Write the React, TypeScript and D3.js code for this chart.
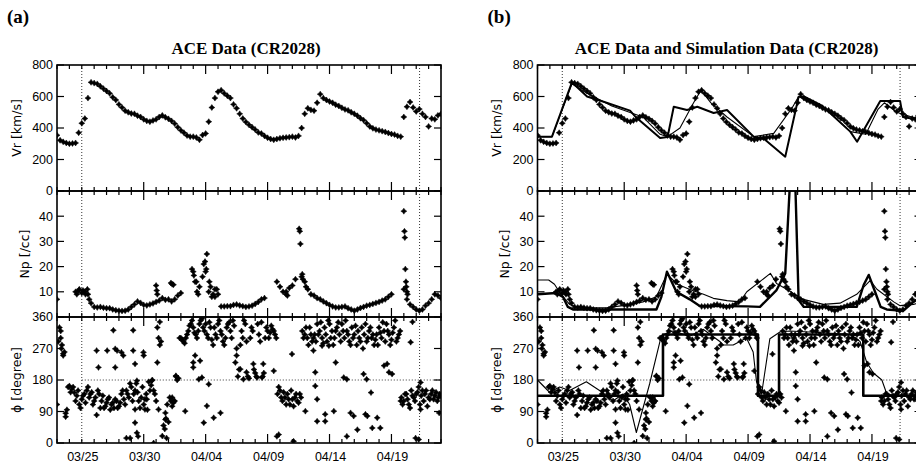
import React from 'react';
import * as d3 from 'd3';

// ---------- time base ----------
const START = Date.UTC(2005, 2, 23);
const DAY = 86400000;
const SPAN_DAYS = 31;
const toDate = (d: number) => new Date(START + d * DAY);

// ---------- ACE data ----------
// Vr [km/s], every 0.25 day from 03/23 00:00
const vrStep = 0.25;
const vrValues = [
  354, 322, 312, 305,
  300, 302, 305, 370,
  430, 460, 590, 690,
  685, 680, 665, 650,
  635, 620, 595, 578,
  550, 530, 510, 500,
  492, 490, 478, 470,
  455, 445, 440, 448,
  455, 470, 480, 468,
  458, 445, 428, 405,
  385, 370, 352, 345,
  345, 340, 325, 355,
  365, 440, 530, 590,
  630, 640, 620, 605,
  590, 550, 525, 490,
  460, 438, 420, 405,
  390, 372, 365, 350,
  338, 330, 325, 330,
  335, 338, 340, 342,
  345, 340, 350, 400,
  490, 525, 515, 510,
  560, 615, 590, 578,
  568, 560, 548, 540,
  528, 518, 512, 500,
  490, 478, 462, 450,
  430, 410, 398, 390,
  385, 380, 375, 368,
  362, 358, 350, 345,
  470, 535, 565, 530,
  505, 520, 490, 470,
  410, 460, 455, 480,
  490,
];

// Np [/cc], every 0.25 day (null = gap)
const npStep = 0.25;
const npValues: (number | null)[] = [
  7, null, null, null,
  null, null, 10, 10.5,
  9.5, 10, 9, 5.5,
  4, 3.8, 4, 3.7,
  3.5, 3.5, 3, 2.7,
  2.5, 2.4, 2.5, 3,
  4, 5, 6.2, 5.6,
  4.8, 4.6, 5, 5.4,
  6, 6.5, 7.5, 6.8,
  7, 6.2, 7, 8.5,
  9.5, null, null, null,
  18, 14, 12, 16,
  18, 10, 8, 11,
  9, 4.2, 4.2, 4.3,
  4.3, 4.8, 5, 4.6,
  4.3, 4, 4.2, 4.5,
  5.2, 6, 7, 7.5,
  null, null, null, 14,
  12, 10, 9, 11.5,
  12.5, 15, null, 16,
  14, 11, 9, 8.5,
  7.5, 7, 6.2, 5.5,
  4.8, 4.2, 3.8, 3.8,
  4, 4.2, 3.5, 3,
  2.5, 3, 3.6, 4,
  4.5, 4.8, 5.2, 5.6,
  6, 6.5, 7, 8,
  9, null, null, null,
  11, 7, 5, 4,
  3, 2.5, 3, 4.5,
  5.5, 7, 9, 8.5,
  7.5,
];
const npExtra: [number, number][] = [
  [1.6, 9], [1.8, 11], [2.1, 10.5], [2.3, 9], [2.45, 11], [2.6, 7],
  [8.0, 12.5], [8.05, 10.5], [8.1, 9], [9.2, 13.5], [9.3, 13], [9.4, 12.8],
  [10.9, 19], [11.05, 16.5], [11.15, 14], [11.3, 10], [11.4, 9],
  [11.85, 21], [11.95, 22], [12.05, 19], [12.1, 25], [12.3, 14], [12.4, 12],
  [12.6, 9], [12.75, 8], [12.9, 11], [18.5, 10], [18.6, 8.5],
  [19.55, 35], [19.6, 34], [19.65, 29], [19.8, 17], [19.85, 15], [20.1, 12],
  [28.0, 42], [28.05, 34], [28.08, 31.5], [28.12, 19], [28.17, 14],
  [28.2, 12], [28.25, 10], [28.3, 9],
];

// phi [degree], two interleaved samplings: even = 0, 0.2, ...; odd = 0.1, 0.3, ...
const phiStep = 0.2;
const phiEven = [
  110, 330, 280, 260, 95,
  163, 154, 144, 135, 110,
  125, 140, 150, 130, 145,
  120, 80, 140, 120, 100,
  115, 130, 110, 100, 120,
  105, 140, 125, 150, 130,
  160, 140, 170, 120, 130,
  110, 140, 175, 165, 150,
  120, 300, 290, 50, 70,
  60, 120, 115, 190, 185,
  300, 290, 300, 320, 340,
  330, 310, 320, 350, 330,
  340, 300, 330, 280, 310,
  340, 320, 290, 300, 340,
  320, 350, 230, 190, 280,
  300, 340, 190, 300, 320,
  200, 340, 290, 190, 300,
  320, 315, 325, 310, 140,
  150, 120, 130, 140, 110,
  125, 130, 120, 140, 320,
  310, 300, 330, 290, 310,
  340, 320, 300, 330, 290,
  340, 320, 300, 330, 310,
  340, 300, 320, 290, 330,
  310, 280, 300, 330, 310,
  290, 320, 300, 280, 310,
  330, 300, 320, 340, 310,
  295, 330, 290, 310, 130,
  120, 140, 110, 150, 130,
  140, 160, 135, 120, 150,
  130, 140, 125, 145, 130,
  135,
];
const phiOdd = [
  290, 320, 255, 75, 160,
  145, 160, 120, 150, 100,
  135, 115, 160, 140, 110,
  130, 150, 100, 135, 105,
  125, 95, 115, 125, 100,
  115, 150, 110, 140, 170,
  120, 150, 145, 100, 160,
  125, 95, 150, 180, 140,
  330, 280, 20, 40, 110,
  130, 105, 120, 180, 300,
  295, 285, 310, 335, 350,
  315, 300, 340, 355, 320,
  310, 345, 295, 330, 300,
  350, 310, 280, 330, 345,
  300, 335, 270, 210, 320,
  350, 290, 185, 330, 210,
  190, 310, 345, 200, 330,
  300, 335, 320, 300, 160,
  130, 145, 110, 125, 150,
  105, 140, 115, 130, 300,
  330, 280, 310, 300, 290,
  310, 345, 285, 310, 350,
  300, 280, 320, 345, 290,
  320, 350, 310, 280, 300,
  335, 320, 290, 270, 340,
  300, 330, 310, 295, 280,
  315, 345, 290, 320, 280,
  315, 350, 300, 320, 110,
  140, 125, 100, 135, 120,
  145, 110, 150, 140, 105,
  125, 150, 135, 120, 140,
];
const phiExtra: [number, number][] = [
  [0.3, 300], [0.35, 270], [0.5, 250], [0.7, 85],
  [3.2, 264], [3.35, 216], [4.05, 264], [4.55, 322], [4.7, 269], [4.7, 216],
  [4.85, 264], [5.2, 259], [5.35, 250], [5.6, 14], [5.9, 14],
  [6.15, 322], [6.15, 264], [6.3, 226], [6.45, 178], [6.3, 96], [6.3, 58],
  [6.45, 29], [6.55, 19], [6.98, 259], [7.0, 250], [7.1, 96], [7.25, 125],
  [7.65, 178], [7.8, 0], [8.1, 230], [8.3, 346], [8.2, 96], [8.75, 86],
  [8.75, 67], [8.85, 14], [9.3, 130], [9.45, 120], [9.6, 192],
  [10.35, 91], [11.0, 230], [11.15, 250], [11.0, 216], [11.55, 235],
  [11.7, 187], [11.45, 182], [12.1, 106], [12.25, 168], [11.85, 58],
  [12.65, 72], [13.2, 86], [14.5, 250], [14.8, 211], [15.05, 182],
  [15.3, 202], [15.85, 226], [16.15, 187], [16.65, 226], [16.55, 187],
  [17.5, 206], [17.75, 19], [17.9, 24], [18.97, 254], [19.1, 5],
  [20.05, 91], [20.7, 264], [20.85, 202], [20.85, 163], [21.0, 125],
  [21.0, 62], [21.4, 278], [21.65, 82], [21.65, 62], [21.95, 278],
  [22.35, 91], [22.5, 230], [23.15, 187], [23.4, 182], [23.4, 19],
  [23.7, 86], [23.95, 77], [24.25, 38], [24.75, 197], [25.0, 182],
  [24.9, 82], [25.05, 77], [25.35, 144], [25.45, 43], [25.85, 72],
  [26.1, 43], [26.4, 221], [26.65, 226], [26.8, 202], [27.05, 197],
  [27.75, 120], [28.55, 288], [28.7, 346], [28.95, 14], [29.2, 10],
  [29.35, 173], [29.35, 96], [30.85, 86],
];

// ---------- simulation data (panel b) ----------
const simVrThick: [number, number][] = [
  [0, 345], [1.17, 345], [2.78, 690], [4.0, 600], [5.34, 567], [7.47, 510],
  [7.9, 472], [9.9, 336], [10.5, 343], [11.0, 535], [12.07, 514],
  [12.9, 535], [14.22, 495], [15.3, 514], [17.45, 345], [18.3, 330],
  [20.0, 218], [21.08, 599], [21.5, 600], [23.0, 540], [25.25, 377],
  [25.8, 313], [27.67, 572], [29.27, 572], [29.5, 470], [31, 450],
];
const simVrThin: [number, number][] = [
  [0, 345], [1.17, 345], [2.78, 680], [4.0, 620], [6.0, 540], [8.5, 470],
  [9.9, 360], [10.5, 345], [11.5, 400], [12.6, 560], [13.2, 640],
  [14.0, 560], [15.3, 470], [17.45, 345], [19.07, 366], [20.55, 527],
  [21.08, 600], [23.0, 540], [25.25, 377], [26.5, 360], [27.5, 520],
  [28.0, 560], [29.0, 500], [31, 450],
];
const simNpThick: [number, number][] = [
  [0, 9], [1.5, 9.5], [2.05, 8], [2.45, 4], [2.86, 3], [9.6, 3], [10.0, 8],
  [10.45, 18], [11.21, 10], [12.29, 7], [13.1, 4.4], [16.87, 4.2],
  [17.96, 4], [19.3, 10.7], [20.0, 17.3], [20.4, 55], [20.8, 55],
  [21.08, 6.7], [21.5, 4], [25.77, 4], [26.33, 12.7], [26.74, 16.7],
  [27.1, 12], [27.7, 4], [28.19, 3], [29.54, 2.5], [30.35, 6], [31, 8],
];
const simNpThin: [number, number][] = [
  [0, 14.7], [0.9, 14.7], [1.37, 13], [1.84, 9.4], [2.59, 5], [3.4, 3.7],
  [5.55, 3.7], [6.9, 4.5], [8.52, 6], [9.6, 8], [10.45, 17], [11.3, 13],
  [12.4, 10.7], [13.4, 9], [14.2, 7.4], [15.3, 6.5], [16.33, 6],
  [16.9, 10], [18.8, 17.3], [19.3, 13.3], [20.11, 11], [21.46, 7],
  [23.07, 5], [24.42, 5.5], [25.77, 9], [26.87, 14.5], [27.4, 11],
  [28.76, 6], [29.27, 4.5], [30.35, 5], [31, 6],
];
const simPhiThick: [number, number][] = [
  [0, 135], [10.13, 135], [10.13, 310], [17.8, 310], [17.8, 135],
  [19.5, 135], [19.5, 310], [26.3, 310], [26.3, 135], [31, 135],
];
const simPhiThin: [number, number][] = [
  [0, 180], [0.97, 145], [1.78, 160], [2.59, 150], [3.94, 175], [5.01, 150],
  [6.09, 120], [6.9, 140], [7.44, 110], [7.98, 30], [9.06, 170], [10.0, 307],
  [10.94, 320], [12.29, 305], [13.37, 325], [14.72, 290], [14.99, 280],
  [15.8, 280], [16.87, 300], [17.41, 260], [17.68, 175], [18.09, 140],
  [18.76, 298], [19.57, 317], [20.38, 320], [23.07, 315], [25.23, 310],
  [26.04, 290], [26.58, 230], [27.12, 200], [27.8, 180], [28.2, 140],
  [29.0, 135], [31, 130],
];

// ---------- axes ----------
const xTickLabelDates = ['2005-03-25', '2005-03-30', '2005-04-04', '2005-04-09', '2005-04-14', '2005-04-19'];
const xMajorDates = ['2005-03-30', '2005-04-04', '2005-04-09', '2005-04-14', '2005-04-19'];
const dottedDays = [2, 29.27];
const vrTicks = [0, 200, 400, 600, 800];
const npTicks = [10, 20, 30, 40];
const phiTicks = [0, 90, 180, 270, 360];

const W = 916, H = 466;
const PLOT_W = 384;
const TOPS = [65, 191, 317];
const SUB_H = 126;

const fmt = d3.utcFormat('%m/%d');
const MARK = 'M0,-3L1.2,-1.2L3,0L1.2,1.2L0,3L-1.2,1.2L-3,0L-1.2,-1.2Z';

type Sub = {
  key: string; label: string; domain: [number, number]; ticks: number[];
  labelTicks: number[]; labelOffset: number;
};
const subs: Sub[] = [
  { key: 'vr', label: 'Vr [km/s]', domain: [0, 800], ticks: vrTicks, labelTicks: vrTicks, labelOffset: -41 },
  { key: 'np', label: 'Np [/cc]', domain: [0, 50], ticks: npTicks, labelTicks: npTicks, labelOffset: -33 },
  { key: 'phi', label: 'ϕ [degree]', domain: [0, 360], ticks: phiTicks, labelTicks: phiTicks, labelOffset: -41 },
];

function series(values: (number | null)[], step: number, offset = 0): [number, number][] {
  const out: [number, number][] = [];
  values.forEach((v, i) => { if (v !== null && v !== undefined) out.push([offset + i * step, v]); });
  return out;
}

const acePoints: Record<string, [number, number][]> = {
  vr: series(vrValues, vrStep),
  np: [...series(npValues, npStep), ...npExtra],
  phi: [...series(phiEven, phiStep), ...series(phiOdd, phiStep, 0.1), ...phiExtra],
};
const simLines: Record<string, { data: [number, number][]; w: number }[]> = {
  vr: [{ data: simVrThin, w: 1.1 }, { data: simVrThick, w: 2 }],
  np: [{ data: simNpThin, w: 1.1 }, { data: simNpThick, w: 2.4 }],
  phi: [{ data: simPhiThin, w: 1.1 }, { data: simPhiThick, w: 2.6 }],
};

function Panel({ left, tag, title, sim }: { left: number; tag: string; title: string; sim: boolean }) {
  const x = d3.scaleUtc().domain([toDate(0), toDate(SPAN_DAYS)]).range([left, left + PLOT_W]);
  const minor = d3.utcDay.range(toDate(0), toDate(SPAN_DAYS + 0.01));
  const majorSet = new Set(xMajorDates.map((s) => +new Date(s + 'T00:00:00Z')));
  const sans = "'Liberation Sans', Arial, sans-serif";
  const serif = "'Liberation Serif', 'Times New Roman', serif";
  return (
    <g>
      <text x={left - 50} y={23} fontFamily={serif} fontWeight="bold" fontSize={19}>{tag}</text>
      <text x={left + PLOT_W / 2 - 3} y={54} textAnchor="middle" fontFamily={serif} fontWeight="bold" fontSize={17}>{title}</text>
      {subs.map((s, si) => {
        const top = TOPS[si];
        const bottom = top + SUB_H;
        const y = d3.scaleLinear().domain(s.domain).range([bottom, top]);
        const clipId = `clip-${tag}-${s.key}`.replace(/[()]/g, '');
        const line = d3.line<[number, number]>().x((d) => x(toDate(d[0]))).y((d) => y(d[1]));
        return (
          <g key={s.key}>
            <defs>
              <clipPath id={clipId}><rect x={left} y={top} width={PLOT_W} height={SUB_H} /></clipPath>
            </defs>
            {/* dotted reference lines */}
            {dottedDays.map((d) => (
              <line key={d} x1={x(toDate(d))} x2={x(toDate(d))} y1={top} y2={bottom} stroke="#000" strokeWidth={0.8} strokeDasharray="1,2" />
            ))}
            {s.key === 'phi' && (
              <line x1={x(toDate(dottedDays[0]))} x2={left + PLOT_W} y1={y(180)} y2={y(180)} stroke="#000" strokeWidth={0.8} strokeDasharray="1,2" />
            )}
            <g clipPath={`url(#${clipId})`}>
              {sim && simLines[s.key].map((l, i) => (
                <path key={i} d={line(l.data) || ''} fill="none" stroke="#000" strokeWidth={l.w} strokeLinejoin="round" />
              ))}
              {acePoints[s.key].map((p, i) => (
                <path key={i} d={MARK} transform={`translate(${x(toDate(p[0]))},${y(p[1])})`} fill="#000" stroke="#000" strokeWidth={0.5} />
              ))}
            </g>
            {/* frame */}
            <rect x={left} y={top} width={PLOT_W} height={SUB_H} fill="none" stroke="#000" strokeWidth={1.6} />
            {/* y ticks */}
            {s.ticks.map((t) => (
              <g key={t}>
                <line x1={left} x2={left + 7} y1={y(t)} y2={y(t)} stroke="#000" strokeWidth={1.2} />
                <line x1={left + PLOT_W - 7} x2={left + PLOT_W} y1={y(t)} y2={y(t)} stroke="#000" strokeWidth={1.2} />
              </g>
            ))}
            {s.labelTicks.map((t) => (
              <text key={t} x={left - 4} y={y(t)} dy="0.35em" textAnchor="end" fontFamily={sans} fontSize={12.5}>{t}</text>
            ))}
            {/* x ticks */}
            {minor.map((dt) => {
              const len = majorSet.has(+dt) ? 9 : 4;
              const xx = x(dt);
              return (
                <g key={+dt}>
                  <line x1={xx} x2={xx} y1={top} y2={top + len} stroke="#000" strokeWidth={1.2} />
                  <line x1={xx} x2={xx} y1={bottom} y2={bottom - len} stroke="#000" strokeWidth={1.2} />
                </g>
              );
            })}
            <text transform={`translate(${left + s.labelOffset},${(top + bottom) / 2}) rotate(-90)`} textAnchor="middle" dominantBaseline="central" fontFamily={"'DejaVu Sans', " + sans} fontSize={12.5}>{s.label}</text>
          </g>
        );
      })}
      {xTickLabelDates.map((s) => {
        const dt = new Date(s + 'T00:00:00Z');
        return (
          <text key={s} x={x(dt) + 1} y={461} textAnchor="middle" fontFamily={sans} fontSize={12.5}>{fmt(dt)}</text>
        );
      })}
    </g>
  );
}

export default function App() {
  return (
    <svg width={W} height={H} style={{ position: 'absolute', left: 0, top: 0, background: '#fff' }}>
      <rect x={0} y={0} width={W} height={H} fill="#fff" />
      <Panel left={57} tag="(a)" title="ACE Data (CR2028)" sim={false} />
      <Panel left={537.5} tag="(b)" title="ACE Data and Simulation Data (CR2028)" sim={true} />
    </svg>
  );
}
